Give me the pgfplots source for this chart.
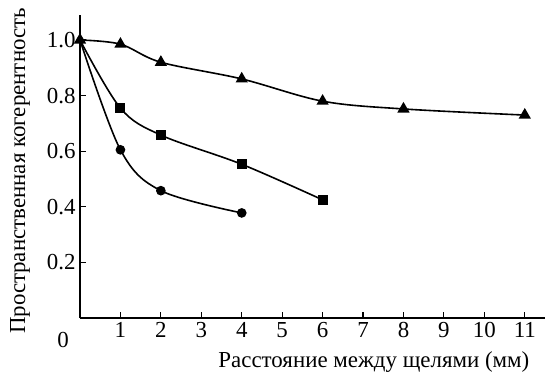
\documentclass[border=0pt]{standalone}
\usepackage{pgfplots}
\pgfplotsset{compat=1.18}
\usepackage{fontspec}
\setmainfont{Liberation Serif}
\begin{document}
\begin{tikzpicture}
\begin{axis}[
  at={(0,0)}, anchor=origin,
  scale only axis, width=465bp, height=303bp,
  xmin=0, xmax=11.5, ymin=0, ymax=1.09,
  axis x line=bottom, axis y line=left,
  axis line style={-, line width=1.1bp},
  tick align=inside, major tick length=6bp,
  tick style={line width=1.1bp, black},
  xtick={1,2,3,4,5,6,7,8,9,10,11},
  ytick={0.2,0.4,0.6,0.8,1.0},
  yticklabel style={/pgf/number format/fixed, /pgf/number format/precision=1, /pgf/number format/fixed zerofill},
  /pgf/number format/assume math mode=true,
  ticklabel style={font=\fontsize{23}{27}\selectfont},
  xticklabel style={yshift=-1bp},
  yticklabel style={xshift=-1bp},
  label style={font=\fontsize{23}{27}\selectfont},
  xlabel={Расстояние между щелями (мм)},
  xlabel style={at={(rel axis cs:0.632,0)}, anchor=center, yshift=-44bp},
  ylabel={Пространственная когерентность},
  ylabel style={at={(rel axis cs:0,0.485)}, anchor=center, yshift=60bp},
  clip=false,
]
\addplot[black, line width=1.6bp, smooth, tension=0.55, mark=*, mark size=4bp, mark indices={2,3,4}]
 coordinates {(0,1.0) (1,0.605) (2,0.458) (4,0.378)};
\addplot[black, line width=1.6bp, smooth, tension=0.55, mark=square*, mark size=4.2bp, mark indices={2,3,4,5}]
 coordinates {(0,1.0) (1,0.755) (2,0.658) (4,0.553) (6,0.425)};
\addplot[black, line width=1.6bp, smooth, tension=0.55, mark=triangle*, mark size=5.5bp, mark options={solid}]
 coordinates {(0,1.0) (1,0.985) (2,0.92) (4,0.86) (6,0.78) (8,0.752) (11,0.73)};
\node[font=\fontsize{23}{27}\selectfont, anchor=center] at ([xshift=-17bp,yshift=-22bp]axis cs:0,0) {0};
\end{axis}
\pgfresetboundingbox
\path (-80bp,-60bp) rectangle (465bp,318bp);
\end{tikzpicture}
\end{document}
